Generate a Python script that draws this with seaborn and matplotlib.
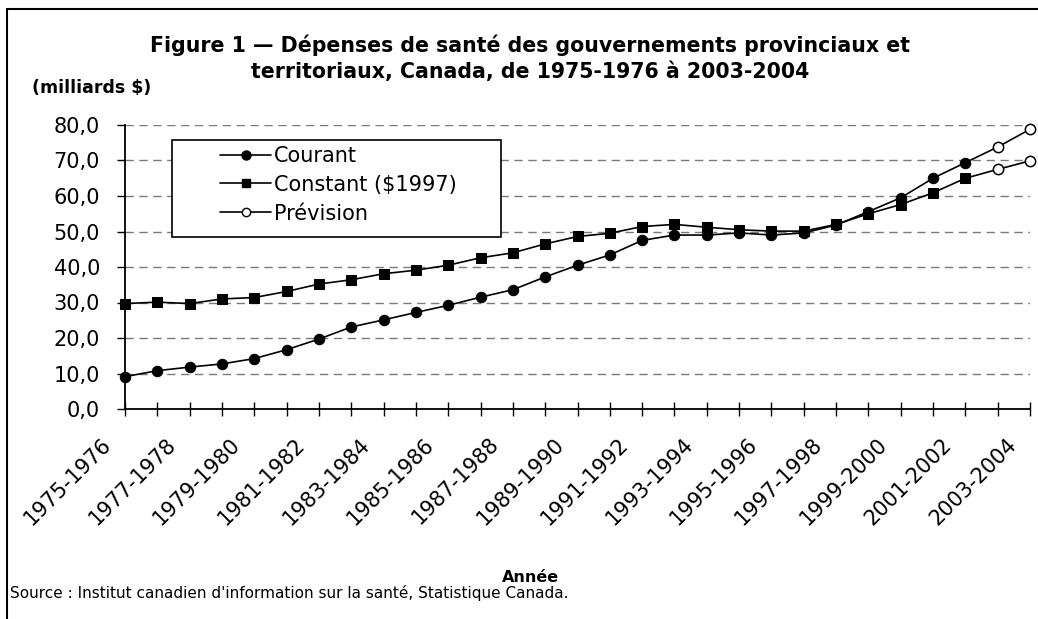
import matplotlib
matplotlib.use("Agg")
import matplotlib.pyplot as plt
from matplotlib.lines import Line2D
from matplotlib.patches import Rectangle
import matplotlib.transforms as mtransforms
import seaborn as sns
import pandas as pd

periods = [f"{y}-{y+1}" for y in range(1975, 2004)]
courant = [9.1, 10.8, 11.8, 12.7, 14.2, 16.7, 19.7, 23.1, 25.1, 27.2, 29.2, 31.5, 33.6,
           37.2, 40.5, 43.4, 47.5, 49.0, 49.0, 49.6, 49.0, 49.6, 51.8, 55.6, 59.5, 65.0, 69.4]
courant_prev = [73.8, 78.8]
constant = [29.7, 30.1, 29.7, 31.0, 31.4, 33.1, 35.2, 36.4, 38.1, 39.1, 40.5, 42.6, 44.0,
            46.5, 48.6, 49.5, 51.4, 52.0, 51.2, 50.5, 50.1, 50.1, 52.0, 55.0, 57.6, 60.9, 65.0]
constant_prev = [67.5, 69.9]
yticks = [0, 10, 20, 30, 40, 50, 60, 70, 80]

sns.set_theme(style="white")
plt.rcParams['font.family'] = ['DejaVu Sans']
plt.rcParams['text.color'] = 'black'
plt.rcParams['xtick.color'] = 'black'
plt.rcParams['ytick.color'] = 'black'
plt.rcParams['axes.labelcolor'] = 'black'

hist_n = len(courant)
df_hist = pd.DataFrame({
    "x": list(range(hist_n)) * 2,
    "val": courant + constant,
    "serie": ["Courant"] * hist_n + ["Constant ($1997)"] * hist_n,
})
prev_x = list(range(hist_n - 1, hist_n + len(courant_prev)))
df_prev_line = pd.DataFrame({
    "x": prev_x * 2,
    "val": [courant[-1]] + courant_prev + [constant[-1]] + constant_prev,
    "serie": ["Courant"] * len(prev_x) + ["Constant ($1997)"] * len(prev_x),
})
pts_x = list(range(hist_n, hist_n + len(courant_prev)))
df_prev_pts = pd.DataFrame({
    "x": pts_x * 2,
    "val": courant_prev + constant_prev,
})

W, H = 1038, 619
fig = plt.figure(figsize=(W / 100, H / 100), dpi=100)
ax = fig.add_axes([125 / W, 1 - 409 / H, (1030 - 125) / W, (409 - 125) / H])

for v in yticks[1:]:
    ax.axhline(v, color="#7a7a7a", lw=1.0, ls=(0, (6, 4)), zorder=0)

LW = 1.2
sns.lineplot(data=df_prev_line, x="x", y="val", units="serie", estimator=None,
             color="black", lw=LW, ax=ax, legend=False, zorder=2)
sns.lineplot(data=df_hist[df_hist.serie == "Courant"], x="x", y="val", color="black",
             lw=LW, marker="o", markersize=7.5, markeredgecolor="black", ax=ax,
             legend=False, zorder=3, clip_on=False)
sns.lineplot(data=df_hist[df_hist.serie == "Constant ($1997)"], x="x", y="val", color="black",
             lw=LW, marker="s", markersize=7, markeredgecolor="black", ax=ax,
             legend=False, zorder=3, clip_on=False)
sns.scatterplot(data=df_prev_pts, x="x", y="val", marker="o", s=55, facecolor="white",
                edgecolor="black", linewidth=1.1, ax=ax, zorder=4, clip_on=False, legend=False)

ax.set_xlim(0, len(periods) - 1)
ax.set_ylim(0, 80)
ax.set_yticks(yticks)
ax.set_yticklabels([f"{v:.1f}".replace(".", ",") for v in yticks], fontsize=15)
ax.set_xticks(range(len(periods)))
ax.set_xticklabels([p if i % 2 == 0 else "" for i, p in enumerate(periods)],
                   rotation=45, ha="right", va="top", rotation_mode="anchor", fontsize=15)
ax.tick_params(axis="y", direction="out", length=6, width=1, pad=12, left=True)
ax.tick_params(axis="x", direction="inout", length=10, width=1, pad=13, bottom=True)
offset = mtransforms.ScaledTranslation(-24 / 100, 0, fig.dpi_scale_trans)
for tick in ax.xaxis.get_major_ticks():
    tick.label1.set_transform(tick.label1.get_transform() + offset)
ax.set_xlabel("")
ax.set_ylabel("")
for s in ["top", "right"]:
    ax.spines[s].set_visible(False)
for s in ["left", "bottom"]:
    ax.spines[s].set_color("black")
    ax.spines[s].set_linewidth(1.3)
ax.set_facecolor("white")

# legend box
box = Rectangle((172 / W, 1 - 237 / H), (501 - 172) / W, (237 - 140) / H,
                transform=fig.transFigure, facecolor="white", edgecolor="black",
                lw=1.2, zorder=5)
ax.add_artist(box)
box.set_clip_on(False)

handles = [
    Line2D([], [], color="black", lw=LW, marker="o", markersize=6.5),
    Line2D([], [], color="black", lw=LW, marker="s", markersize=6),
    Line2D([], [], color="black", lw=LW, marker="o", markersize=6,
           markerfacecolor="white", markeredgecolor="black"),
]
leg = ax.legend(handles, ["Courant", "Constant ($1997)", "Prévision"],
                loc="upper left", bbox_to_anchor=(220 / W, 1 - 146 / H),
                bbox_transform=fig.transFigure,
                fontsize=15, frameon=False, handlelength=2.45, borderpad=0,
                labelspacing=0.42, handletextpad=0.15, borderaxespad=0)
leg.set_zorder(6)

fig.text(530 / W, 1 - 45 / H, "Figure 1 — Dépenses de santé des gouvernements provinciaux et",
         ha="center", va="center", fontsize=14.8, fontweight="bold")
fig.text(530 / W, 1 - 72 / H, "territoriaux, Canada, de 1975-1976 à 2003-2004",
         ha="center", va="center", fontsize=14.8, fontweight="bold")
fig.text(32 / W, 1 - 88 / H, "(milliards $)", ha="left", va="center",
         fontsize=12.5, fontweight="bold")
fig.text(530 / W, 1 - 577 / H, "Année", ha="center", va="center",
         fontsize=11.5, fontweight="bold")
fig.text(10 / W, 1 - 593 / H,
         "Source : Institut canadien d'information sur la santé, Statistique Canada.",
         ha="left", va="center", fontsize=11)

fig.add_artist(Line2D([7 / W, 1], [1 - 9 / H, 1 - 9 / H], color="black", lw=1.5,
                      transform=fig.transFigure))
fig.add_artist(Line2D([7 / W, 7 / W], [0, 1 - 9 / H], color="black", lw=1.5,
                      transform=fig.transFigure))

fig.savefig("out.png", dpi=100, facecolor="white")
